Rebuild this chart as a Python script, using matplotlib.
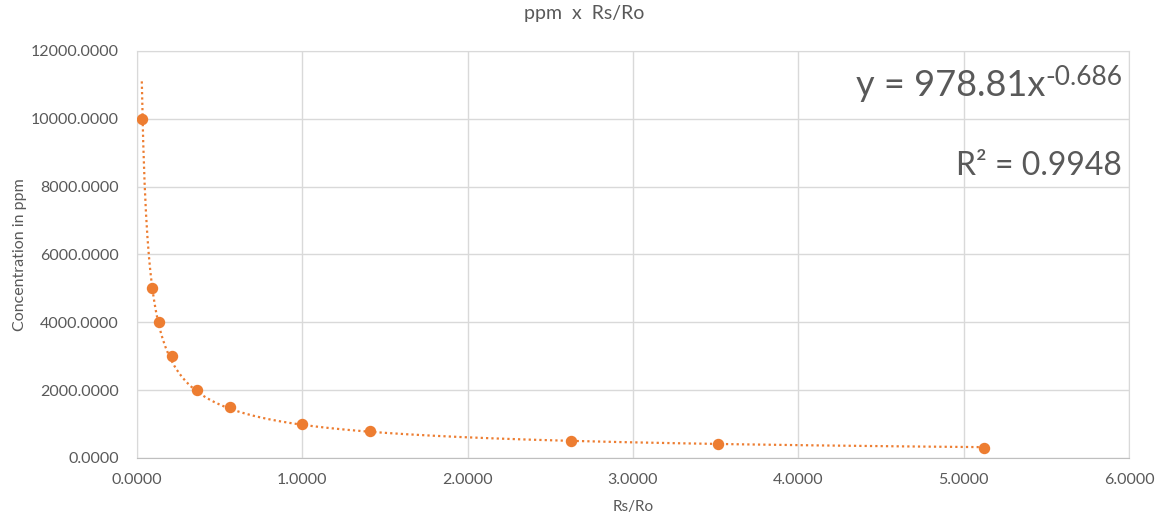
import numpy as np
import matplotlib.pyplot as plt

# dados
rs_ro = [0.029, 0.093, 0.135, 0.212, 0.365, 0.563, 1.0, 1.411, 2.623, 3.517, 5.122]
ppm = [10000, 5000, 4000, 3000, 2000, 1500, 1000, 800, 500, 400, 300]
coef_a = 978.81
coef_b = -0.686
r2 = 0.9948

laranja = "#ED7D31"
cinza = "#595959"

plt.rcParams["font.family"] = ["Lato", "DejaVu Sans"]

fig = plt.figure(figsize=(11.68, 5.24), dpi=100)
ax = fig.add_axes([0.1173, 0.126, 0.9666 - 0.1173, 0.9027 - 0.126])

# linha de tendência (potência)
xt = np.linspace(min(rs_ro), max(rs_ro), 600)
ax.plot(xt, coef_a * xt ** coef_b, color=laranja, linewidth=1.6,
        linestyle=(0, (1, 1.4)), zorder=2)
ax.plot(rs_ro, ppm, "o", color=laranja, markersize=7.2, zorder=3)

ax.set_xlim(0, 6)
ax.set_ylim(0, 12000)
ax.set_xticks(np.arange(0, 7, 1))
ax.set_yticks(np.arange(0, 14000, 2000))
ax.xaxis.set_major_formatter(lambda v, p: f"{v:.4f}")
ax.yaxis.set_major_formatter(lambda v, p: f"{v:.4f}")
ax.grid(True, color="#d9d9d9", linewidth=1)
ax.set_axisbelow(True)
ax.tick_params(length=0, labelsize=11.5, labelcolor=cinza)
ax.tick_params(axis="y", pad=13)
ax.tick_params(axis="x", pad=11)
for s in ["top", "right", "left"]:
    ax.spines[s].set_color("#d9d9d9")
ax.spines["bottom"].set_color("#bfbfbf")

ax.set_xlabel("Rs/Ro", fontsize=11, color=cinza, labelpad=9)
ax.set_ylabel("Concentration in ppm", fontsize=11.5, color=cinza, labelpad=3)
fig.suptitle("ppm  x  Rs/Ro", fontsize=14, color=cinza, y=0.99)

# equação: expoente separado para manter o hífen
exp_txt = ax.text(0.993, 0.917, f"{coef_b}", transform=ax.transAxes,
                  ha="right", va="baseline", fontsize=19, color=cinza)
ax.annotate(f"y = {coef_a}x", xy=(0, 0), xycoords=exp_txt,
            xytext=(0, -9), textcoords="offset points",
            ha="right", va="bottom", fontsize=26, color=cinza)
ax.text(0.993, 0.695, f"R² = {r2}", transform=ax.transAxes,
        ha="right", va="baseline", fontsize=23, color=cinza)

fig.savefig("out.png", dpi=100)
